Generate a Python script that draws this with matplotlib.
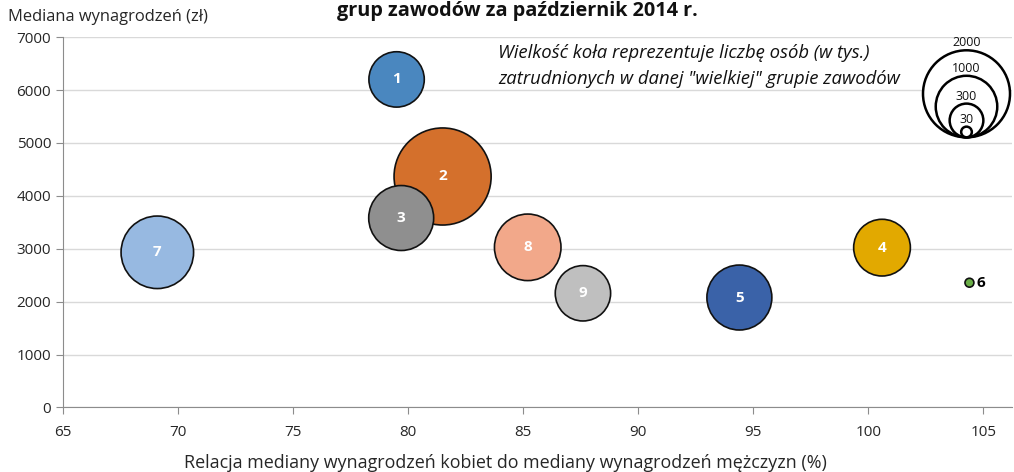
import matplotlib.pyplot as plt
from matplotlib.patches import Circle
import numpy as np

plt.rcParams['font.family'] = ['Open Sans', 'DejaVu Sans']

# Data: gender pay relation (%), median wage (zl), employment (thous.)
groups = ['1', '2', '3', '4', '5', '6', '7', '8', '9']
relation = [79.5, 81.5, 79.7, 100.6, 94.4, 104.4, 69.1, 85.2, 87.6]
median_wage = [6200, 4365, 3580, 3020, 2077, 2357, 2932, 3026, 2157]
employed = [810, 2490, 1115, 850, 1115, 21, 1390, 1170, 810]
colors = ['#4a87bf', '#d4702c', '#8f8f8f', '#e2a900', '#3a62a8',
          '#6aae47', '#97b9e1', '#f2a88a', '#bfbfbf']
legend_vals = [2000, 1000, 300, 30]

S_PER_UNIT = 1.962  # marker area (pt^2) per thousand employed

fig = plt.figure(figsize=(10.14, 4.72), dpi=100)
ax = fig.add_axes([63 / 1014, 64.6 / 472, (1012 - 63) / 1014, (407.4 - 37.1) / 472])

ax.set_xlim(65, 106.25)
ax.set_ylim(0, 7000)
ax.set_xticks(np.arange(65, 106, 5))
ax.set_yticks(np.arange(0, 7001, 1000))
ax.grid(axis='y', color='#d9d9d9', lw=1)
ax.set_axisbelow(True)
for s in ['top', 'right']:
    ax.spines[s].set_visible(False)
for s in ['left', 'bottom']:
    ax.spines[s].set_color('#8c8c8c')
ax.tick_params(axis='both', colors='#8c8c8c', length=5, labelsize=11,
               labelcolor='#262626')
ax.tick_params(axis='x', pad=8)

sizes = [v * S_PER_UNIT for v in employed]
ax.scatter(relation, median_wage, s=sizes, c=colors, edgecolors='#111111',
           linewidths=1.2, zorder=3)

for g, x, y, v in zip(groups, relation, median_wage, employed):
    if v > 100:
        ax.text(x, y, g, ha='center', va='center', color='white',
                fontsize=11, fontweight='bold', zorder=4)
    else:
        ax.annotate(g, (x, y), xytext=(8, 0), textcoords='offset points',
                    ha='center', va='center', color='black', fontsize=11,
                    fontweight='bold', zorder=4)

fig.text(505 / 1014, 1 - 463 / 472,
         'Relacja mediany wynagrodzeń kobiet do mediany wynagrodzeń mężczyzn (%)',
         fontsize=12.9, color='#262626', ha='center', va='center')
fig.text(8 / 1014, 1 - 17 / 472, 'Mediana wynagrodzeń (zł)', fontsize=11.9,
         color='#262626', va='center', ha='left')

# title (only its last line is visible in the original)
fig.text(517 / 1014, 1 - 16 / 472, 'grup zawodów za październik 2014 r.',
         fontsize=14.3, fontweight='bold', ha='center', va='baseline',
         color='#111111')

note_lines = ['Wielkość koła reprezentuje liczbę osób (w tys.)',
              'zatrudnionych w danej "wielkiej" grupie zawodów']
for line, base_px in zip(note_lines, [58, 84]):
    fig.text(498 / 1014, 1 - base_px / 472, line, fontsize=13.3, style='italic',
             ha='left', va='baseline', color='#111111')

# size legend: nested circles sharing the bottom point
cx_in = 966.5 / 100
bottom_in = (472 - 137.3) / 100
for v in legend_vals:
    r_in = np.sqrt(v * S_PER_UNIT) / 2 / 72
    circ = Circle((cx_in, bottom_in + r_in), r_in, transform=fig.dpi_scale_trans,
                  facecolor='white', edgecolor='black', lw=1.8, zorder=5)
    fig.add_artist(circ)
    fig.text(cx_in / 10.14, (bottom_in + 2 * r_in + 0.01) / 4.72, str(v),
             fontsize=9, ha='center', va='bottom', color='#111111', zorder=6)

fig.savefig('out.png', dpi=100, facecolor='white')
